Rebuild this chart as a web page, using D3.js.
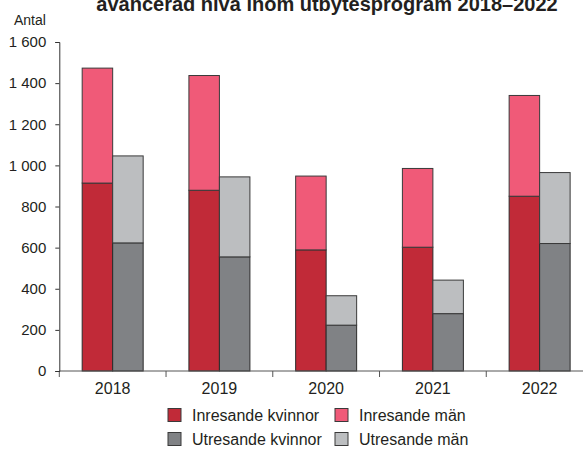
<!DOCTYPE html>
<html>
<head>
<meta charset="utf-8">
<script src="https://cdn.jsdelivr.net/npm/d3@7"></script>
<style>
  body { margin: 0; background: #fff; }
  svg { display: block; font-family: "Liberation Sans", Arial, sans-serif; }
</style>
</head>
<body>
<div id="chart"></div>
<script>
// data
const years = ["2018", "2019", "2020", "2021", "2022"];
const inKvinnor = [914, 879, 589, 602, 850];
const inMan = [559, 558, 359, 383, 490];
const utKvinnor = [623, 555, 223, 279, 620];
const utMan = [423, 389, 143, 163, 345];
const yTicks = [0, 200, 400, 600, 800, 1000, 1200, 1400, 1600];

const titel = "avancerad nivå inom utbytesprogram 2018–2022";
const legendNamn = ["Inresande kvinnor", "Inresande män", "Utresande kvinnor", "Utresande män"];
const farger = ["#c12a38", "#f05a78", "#808285", "#bcbec0"];

const width = 583, height = 450;
const svg = d3.select("#chart").append("svg")
  .attr("width", width).attr("height", height);

const textColor = "#231f20";

// scales
const x = d3.scaleBand().domain(years).range([59.3, 593]).paddingInner(0).paddingOuter(0);
const sub = d3.scaleBand().domain(["in", "ut"]).range([0, x.bandwidth()]).paddingInner(0).paddingOuter(0.75);
const y = d3.scaleLinear().domain([0, 1600]).range([371, 42]);

const loc = d3.formatLocale({ decimal: ",", thousands: "\u00a0", grouping: [3], currency: ["", " kr"] });
const fmt = loc.format(",d");

// title (cut at the top in the original)
svg.append("text")
  .attr("x", 327).attr("y", 11)
  .attr("text-anchor", "middle")
  .attr("font-size", 20).attr("font-weight", "bold")
  .attr("fill", textColor)
  .text(titel);

svg.append("text")
  .attr("x", 14).attr("y", 25)
  .attr("font-size", 14).attr("fill", textColor)
  .text("Antal");

// stacked bars
const stacks = [
  { key: "in", women: inKvinnor, men: inMan, c1: farger[0], c2: farger[1] },
  { key: "ut", women: utKvinnor, men: utMan, c1: farger[2], c2: farger[3] }
];

stacks.forEach(s => {
  const g = svg.append("g");
  years.forEach((yr, i) => {
    const bx = x(yr) + sub(s.key);
    g.append("rect")
      .attr("x", bx).attr("width", sub.bandwidth())
      .attr("y", y(s.women[i])).attr("height", y(0) - y(s.women[i]))
      .attr("fill", s.c1).attr("stroke", "#2b2b2b").attr("stroke-width", 1);
    g.append("rect")
      .attr("x", bx).attr("width", sub.bandwidth())
      .attr("y", y(s.women[i] + s.men[i])).attr("height", y(s.women[i]) - y(s.women[i] + s.men[i]))
      .attr("fill", s.c2).attr("stroke", "#3a3a3a").attr("stroke-width", 1);
  });
});

// x axis
const xAxis = svg.append("g").attr("transform", `translate(0,${y(0)})`);
xAxis.append("line")
  .attr("x1", 59.3).attr("x2", 593)
  .attr("stroke", "#555").attr("stroke-width", 1);
years.forEach(yr => {
  xAxis.append("line")
    .attr("x1", x(yr)).attr("x2", x(yr))
    .attr("y1", 0).attr("y2", 6)
    .attr("stroke", "#555");
  xAxis.append("text")
    .attr("x", x(yr) + x.bandwidth() / 2).attr("y", 22.5)
    .attr("text-anchor", "middle")
    .attr("font-size", 16).attr("fill", textColor)
    .text(yr);
});

// y axis
const yAxis = svg.append("g").attr("transform", "translate(59.3,0)")
  .call(d3.axisLeft(y).tickValues(yTicks).tickFormat(fmt).tickSize(4).tickPadding(9));
yAxis.selectAll("path, line").attr("stroke", "#333");
yAxis.selectAll("text").attr("font-size", 15).attr("fill", textColor)
  .attr("font-family", "Liberation Sans, Arial, sans-serif");

// legend
const legPos = [
  { x: 168, y: 415 }, { x: 335, y: 415 },
  { x: 168, y: 439 }, { x: 335, y: 439 }
];
legendNamn.forEach((n, i) => {
  const p = legPos[i];
  svg.append("rect")
    .attr("x", p.x).attr("y", p.y - 6.5)
    .attr("width", 13).attr("height", 13)
    .attr("fill", farger[i]).attr("stroke", "#3a3a3a").attr("stroke-width", 1);
  svg.append("text")
    .attr("x", p.x + 24).attr("y", p.y + 6)
    .attr("font-size", 16).attr("fill", textColor)
    .text(n);
});
</script>
</body>
</html>
